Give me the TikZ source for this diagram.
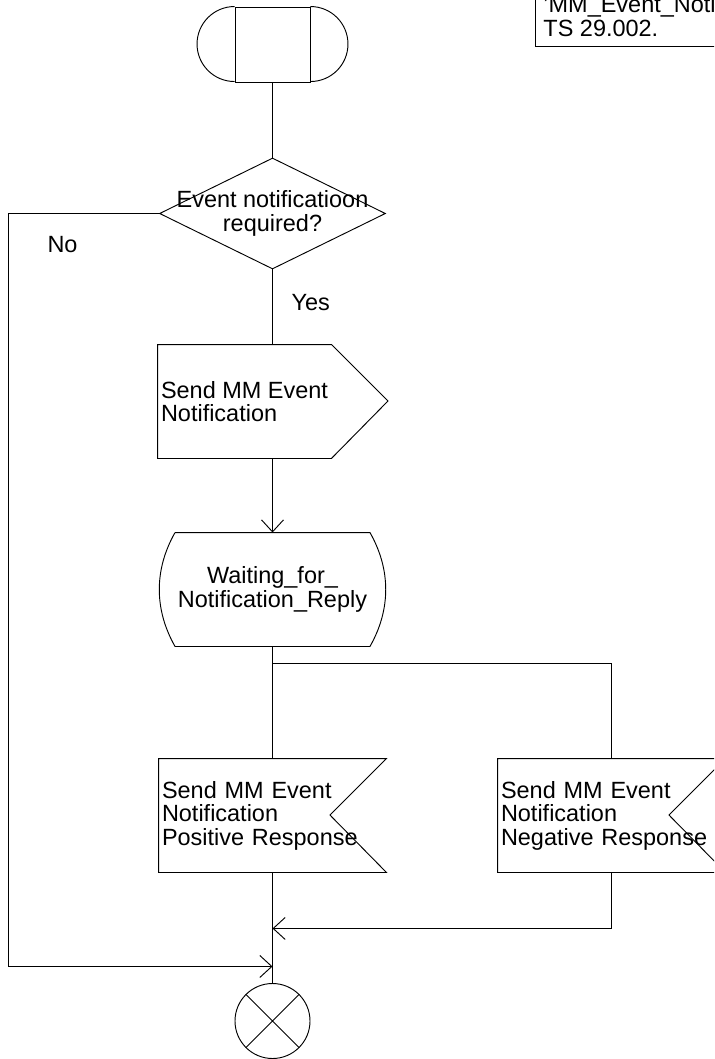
\documentclass[tikz,border=0pt]{standalone}
\usepackage{fontspec}
\setmainfont{Liberation Sans}
\usetikzlibrary{arrows.meta,calc,shapes.geometric}

\begin{document}
\begin{tikzpicture}[x=0.75pt,y=-0.75pt,line width=0.7pt,
 >={Straight Barb[length=9pt,width=16.5pt]},
 txt/.style={font=\fontsize{17.6}{17.6}\selectfont,inner sep=0pt},
 body/.style={txt,minimum height=84.75pt,align=left,inner xsep=2.25pt}]
\clip (0,0) rectangle (714,1059);
% note, cut by the page edge
\node[txt,anchor=south west,align=left] (note) at (543,36.7) {'MM\_Event\_Notification'\\TS 29.002.};
\draw ($(note.south west)+(-8,10)$) rectangle ($(note.north east)+(40,-20)$);
% start
\node[draw,minimum width=56.25pt,minimum height=56.25pt,inner sep=0pt] (start) at (272.5,44.5) {};
\draw (start.north west) arc[start angle=90,end angle=270,radius=28.125pt];
\draw (start.north east) arc[start angle=90,end angle=-90,radius=28.125pt];
% decision
\node[draw,diamond,minimum width=169.5pt,minimum height=83.25pt,inner sep=0pt] (ask) at (272.5,213.5) {};
\node[txt,align=center] (askt) at (ask.center) {Event notificatioon\\required?};
\node[txt] (no) at (62.5,244.5) {No};
\node[txt] (yes) at (310.7,302.2) {Yes};
% output
\node[body,minimum width=128.25pt] (send) at (244.5,401.5) {Send MM Event\\Notification};
\draw (send.south west) -- (send.north west) -- (send.north east) -- ++(56.5,56.5) -- (send.south east) -- cycle;
% state
\node[txt,minimum width=145.5pt,minimum height=84.75pt,align=center] (wait) at (272.5,589.5) {Waiting\_for\_\\Notification\_Reply};
\draw (wait.north west) -- (wait.north east) .. controls +(21,37) and +(21,-37) .. (wait.south east)
  -- (wait.south west) .. controls +(-21,-37) and +(-21,37) .. (wait.north west);
% inputs
\node[body,text width=165.75pt] (pos) at (272.5,815.5) {Send MM Event\\Notification\\Positive Response};
\draw (pos.north west) -- (pos.north east) -- ++(-56.5,56.5) -- (pos.south east) -- (pos.south west) -- cycle;
\node[body,text width=165.75pt] (neg) at (611.5,815.5) {Send MM Event\\Notification\\Negative Response};
\draw (neg.north west) -- (neg.north east) -- ++(-56.5,56.5) -- (neg.south east) -- (neg.south west) -- cycle;
% stop
\node[draw,circle,minimum size=56.25pt,inner sep=0pt] (stop) at (272.5,1021) {};
\draw (stop.45) -- (stop.225) (stop.135) -- (stop.315);
% flow lines
\draw (start.south) -- (ask.north);
\draw (ask.south) -- (ask.south |- send.north);
\draw[->] (wait.north |- send.south) -- (wait.north);
\draw (wait.south) -- (pos.north);
\coordinate (split) at ($(wait.south)+(0,17)$);
\draw (split) -| (neg.north);
\draw (pos.south) -- (stop.north);
\draw[->] (neg.south) |- ($(pos.south)+(0,56)$);
\draw[->] (ask.west) -- ++(-151,0) |- ($(pos.south)+(0,94)$);
\end{tikzpicture}
\end{document}
